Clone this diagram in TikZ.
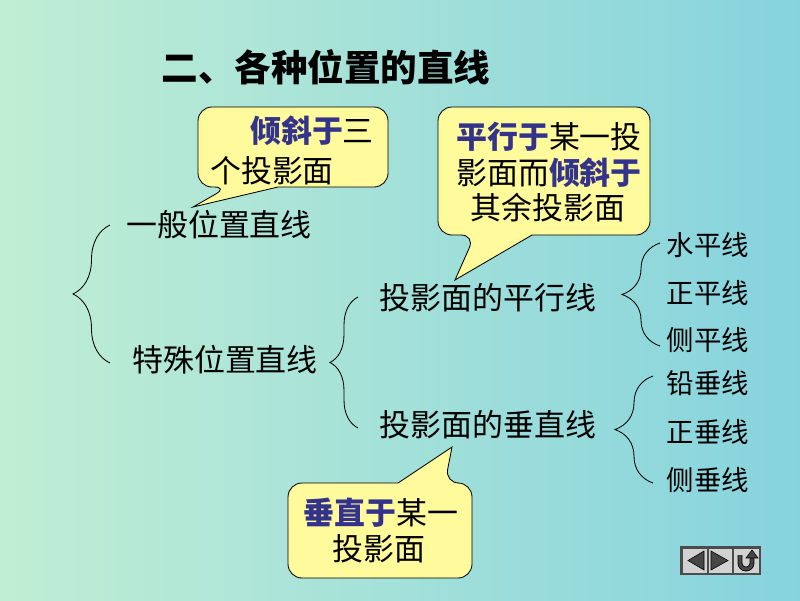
\documentclass[tikz,border=0pt]{standalone}
\usepackage{fontspec}
\setmainfont{Noto Sans CJK SC}
\usetikzlibrary{decorations.pathreplacing}
\definecolor{bgleft}{RGB}{192,238,212}
\definecolor{bgright}{RGB}{134,211,222}
\definecolor{balloonfill}{RGB}{255,250,155}
\definecolor{keyblue}{RGB}{51,51,140}
\newcommand{\keyw}[1]{{\bfseries\color{keyblue}#1}}

\begin{document}
\begin{tikzpicture}[x=0.025cm, y=-0.025cm,
  txt/.style={font=\fontsize{22pt}{26pt}\selectfont, inner sep=0pt},
  small/.style={font=\fontsize{19.5pt}{23pt}\selectfont, inner sep=0pt},
  balloon/.style={draw=black, line width=0.6pt, fill=balloonfill, rounded corners=0.35cm},
  bracket/.style={decorate, decoration={brace, amplitude=#1}, line width=0.6pt},
  btn/.style={fill=gray!35, draw=gray!60!black, line width=0.4pt},
  glyph/.style={fill=gray!55!black, draw=black, line width=0.4pt}]
\fill [left color=bgleft, right color=bgright] (0,0) rectangle (800,600);
%\draw [help lines, step=50] (0,0) grid (800,600);
\node [font=\fontsize{26pt}{30pt}\selectfont\bfseries] (title) at (326,67) {二、各种位置的直线};
% balloons
\draw [balloon] (278,187) -- (388,187) -- (388,107) -- (198,107) -- (198,187) -- (228,187) [sharp corners] -- (193,207) -- cycle;
\draw [balloon] (532,235) -- (650,235) -- (650,107) -- (438,107) -- (438,235) -- (475,235) [sharp corners] -- (455,280) -- cycle;
\draw [balloon] (398,483) -- (288,483) -- (288,578) -- (472,578) -- (472,483) -- (445,483) [sharp corners] -- (452,447) -- cycle;
\node [txt] (c1a) at (312,131) {\keyw{倾斜于}三};
\node [txt] (c1b) at (272,171) {个投影面};
\node [txt] (c2a) at (549,137) {\keyw{平行于}某一投};
\node [txt] (c2b) at (549,173) {影面而\keyw{倾斜于}};
\node [txt] (c2c) at (548,208) {其余投影面};
\node [txt] (c3a) at (381,513) {\keyw{垂直于}某一};
\node [txt] (c3b) at (379,549) {投影面};
% tree
\node [txt] (general) at (219,225) {一般位置直线};
\node [txt] (special) at (225,360) {特殊位置直线};
\node [txt] (para) at (488,298) {投影面的平行线};
\node [txt] (perp) at (488,425) {投影面的垂直线};
\node [small] (hor) at (708,245) {水平线};
\node [small] (fro) at (708,293) {正平线};
\node [small] (sid) at (708,340) {侧平线};
\node [small] (vert) at (708,383) {铅垂线};
\node [small] (frov) at (708,432) {正垂线};
\node [small] (sidv) at (708,480) {侧垂线};
\draw [bracket=0.925cm] (110,363) -- (110,225);
\draw [bracket=0.7cm] (358,428) -- (358,297);
\draw [bracket=0.95cm] (660,346) -- (660,243);
\draw [bracket=0.95cm] (653,483) -- (653,376);
% buttons
\fill [gray!60!black] (680,546) rectangle (761,575);
\draw [btn] (682,548) rectangle (707,573);
\draw [btn] (708,548) rectangle (732,573);
\draw [btn] (733,548) rectangle (759,573);
\draw [glyph] (688,560.5) -- (704,551) -- (704,570) -- cycle;
\draw [glyph] (711,551) -- (711,570) -- (728,560.5) -- cycle;
\draw [line width=3.4pt, black] (740,555) -- (740,563) arc [start angle=180, end angle=360, radius=0.15cm] -- (752,558);
\draw [line width=2.2pt, gray!55!black] (740,555) -- (740,563) arc [start angle=180, end angle=360, radius=0.15cm] -- (752,558);
\draw [glyph] (746,558) -- (758,558) -- (752,550) -- cycle;
\end{tikzpicture}
\end{document}
